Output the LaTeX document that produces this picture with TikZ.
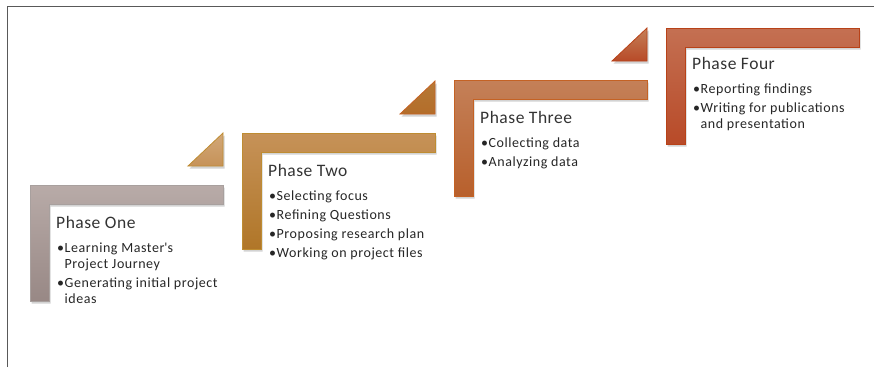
\documentclass[tikz,border=0pt]{standalone}
\usepackage{fontspec}
\setmainfont{Carlito}
\usetikzlibrary{positioning, shadows}
\definecolor{oneTop}{RGB}{184,171,168}
\definecolor{oneBot}{RGB}{152,136,133}
\definecolor{oneLine}{RGB}{168,160,158}
\definecolor{twoTop}{RGB}{198,146,88}
\definecolor{twoBot}{RGB}{176,118,40}
\definecolor{twoLine}{RGB}{190,140,50}
\definecolor{threeTop}{RGB}{196,128,88}
\definecolor{threeBot}{RGB}{184,96,44}
\definecolor{threeLine}{RGB}{196,98,36}
\definecolor{fourTop}{RGB}{196,112,82}
\definecolor{fourBot}{RGB}{184,74,40}
\definecolor{fourLine}{RGB}{184,66,24}
\tikzstyle{stepbar}=[line width=0.8pt, drop shadow={opacity=0.35, shadow xshift=1.5pt, shadow yshift=-2.5pt}]
\tikzstyle{phasetitle}=[anchor=west, inner sep=0pt, font=\fontsize{17.5}{20}\selectfont\addfontfeature{LetterSpace=3}, text=black!80]
\tikzstyle{items}=[align=left, inner sep=0pt, font=\fontsize{14}{16}\selectfont\addfontfeature{LetterSpace=4}, text=black!85]
\newcommand{\itemdot}{\makebox[7.5pt][l]{\textbullet}}
\newcommand{\itemgap}{\hspace*{7.5pt}}
% one L-shaped step, drawn from its outer top-left corner
\newcommand{\stepL}{(0,0) -- (193,0) -- (193,19) -- (19,19) -- (19,116) -- (0,116) -- cycle}
\newcommand{\stepT}{(158,-19) -- (193,-19) -- (193,-52) -- cycle}

\begin{document}
\begin{tikzpicture}[x=1pt, y=-1pt]
  \useasboundingbox (0,0) rectangle (874,367);
  \draw[black!65, line width=0.9pt] (7,367) -- (7,6) -- (874,6);

  % phase one
  \begin{scope}[shift={(30,185)}]
    \path[stepbar, draw=oneLine, top color=oneTop, bottom color=oneBot] \stepL;
    \path[stepbar, draw=twoLine, top color=twoTop!80!white, bottom color=twoTop] \stepT;
    \node[phasetitle] (t1) at (26,37) {Phase One};
  \end{scope}
  \node[items, below right=14pt and 1pt of t1.south west] (b1)
    {\itemdot Learning Master\textquotesingle s\\ \itemgap Project Journey\\[3pt]
     \itemdot Generating initial project\\ \itemgap ideas};

  % phase two
  \begin{scope}[shift={(242,133)}]
    \path[stepbar, draw=twoLine, top color=twoTop, bottom color=twoBot] \stepL;
    \path[stepbar, draw=threeLine, top color=twoBot!70!threeTop, bottom color=twoBot!60!threeBot] \stepT;
    \node[phasetitle] (t2) at (26,37) {Phase Two};
  \end{scope}
  \node[items, below right=14pt and 1pt of t2.south west] (b2)
    {\itemdot Selecting focus\\[3pt]\itemdot Refining Questions\\[3pt]
     \itemdot Proposing research plan\\[3pt]\itemdot Working on project files};

  % phase three
  \begin{scope}[shift={(454,80)}]
    \path[stepbar, draw=threeLine, top color=threeTop, bottom color=threeBot] \stepL;
    \path[stepbar, draw=fourLine, top color=threeTop, bottom color=fourBot] \stepT;
    \node[phasetitle] (t3) at (26,37) {Phase Three};
  \end{scope}
  \node[items, below right=14pt and 1pt of t3.south west] (b3)
    {\itemdot Collecting data\\[3pt]\itemdot Analyzing data};

  % phase four
  \begin{scope}[shift={(666,28)}]
    \path[stepbar, draw=fourLine, top color=fourTop, bottom color=fourBot] \stepL;
    \node[phasetitle] (t4) at (26,35) {Phase Four};
  \end{scope}
  \node[items, below right=14pt and 1pt of t4.south west] (b4)
    {\itemdot Reporting findings\\[3pt]\itemdot Writing for publications\\ \itemgap and presentation};
\end{tikzpicture}
\end{document}
